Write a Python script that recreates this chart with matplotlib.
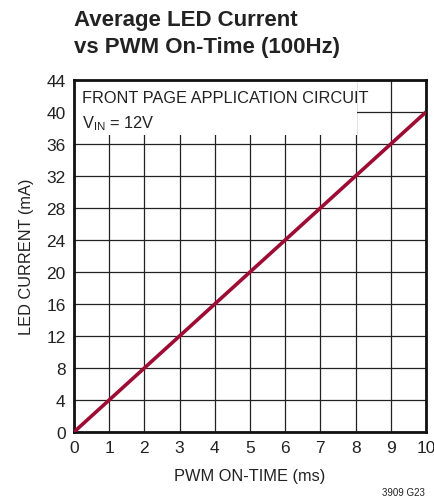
import matplotlib
matplotlib.use('Agg')
import matplotlib.pyplot as plt
from matplotlib.patches import Rectangle

# data
on_time_ms = [0, 10]
led_current_ma = [0, 40]
x_ticks = list(range(0, 11))
y_ticks = list(range(0, 45, 4))

FONT = ['Liberation Sans', 'DejaVu Sans']
RED = '#9E0B33'
INK = '#222222'

fig = plt.figure(figsize=(4.35, 5.02), dpi=100)
ax = fig.add_axes([74 / 435, 1 - 433 / 502, 352 / 435, 352 / 502])

ax.plot(on_time_ms, led_current_ma, color=RED, lw=2.6, zorder=4,
        solid_capstyle='butt')

ax.set_xlim(0, 10)
ax.set_ylim(0, 44)
ax.set_xticks(x_ticks)
ax.set_yticks(y_ticks)
ax.grid(True, color=INK, lw=0.9, zorder=1)
ax.set_axisbelow(True)
ax.tick_params(length=0, pad=6, labelsize=12.5)
for lbl in ax.get_xticklabels() + ax.get_yticklabels():
    lbl.set_family(FONT)
    lbl.set_color(INK)
for s in ax.spines.values():
    s.set_linewidth(2)
    s.set_color('#111111')

# white box behind the annotation
ax.add_patch(Rectangle((0, 37.1), 8.05, 6.9, facecolor='white',
                       edgecolor='none', zorder=2))
ax.text(0.22, 42.7, 'FRONT PAGE APPLICATION CIRCUIT', family=FONT,
        fontsize=11.8, color=INK, va='top', ha='left', zorder=3)
ax.text(0.22, 39.8, r'V$_{\mathregular{IN}}$ = 12V', family=FONT,
        fontsize=11.8, color=INK, va='top', ha='left', zorder=3)

ax.set_xlabel('PWM ON-TIME (ms)', family=FONT, fontsize=11.8,
              color=INK, labelpad=9)
ax.set_ylabel('LED CURRENT (mA)', family=FONT, fontsize=11.8,
              color=INK, labelpad=9)

fig.text(74 / 435, 1 - 10 / 502, 'Average LED Current\nvs PWM On-Time (100Hz)',
         family=FONT, fontsize=16, fontweight='bold', color=INK,
         ha='left', va='top', linespacing=1.4)
fig.text(425 / 435, 1 - 493 / 502, '3909 G23', family=FONT, fontsize=7,
         color=INK, ha='right', va='center')

fig.savefig('out.png', dpi=100)
